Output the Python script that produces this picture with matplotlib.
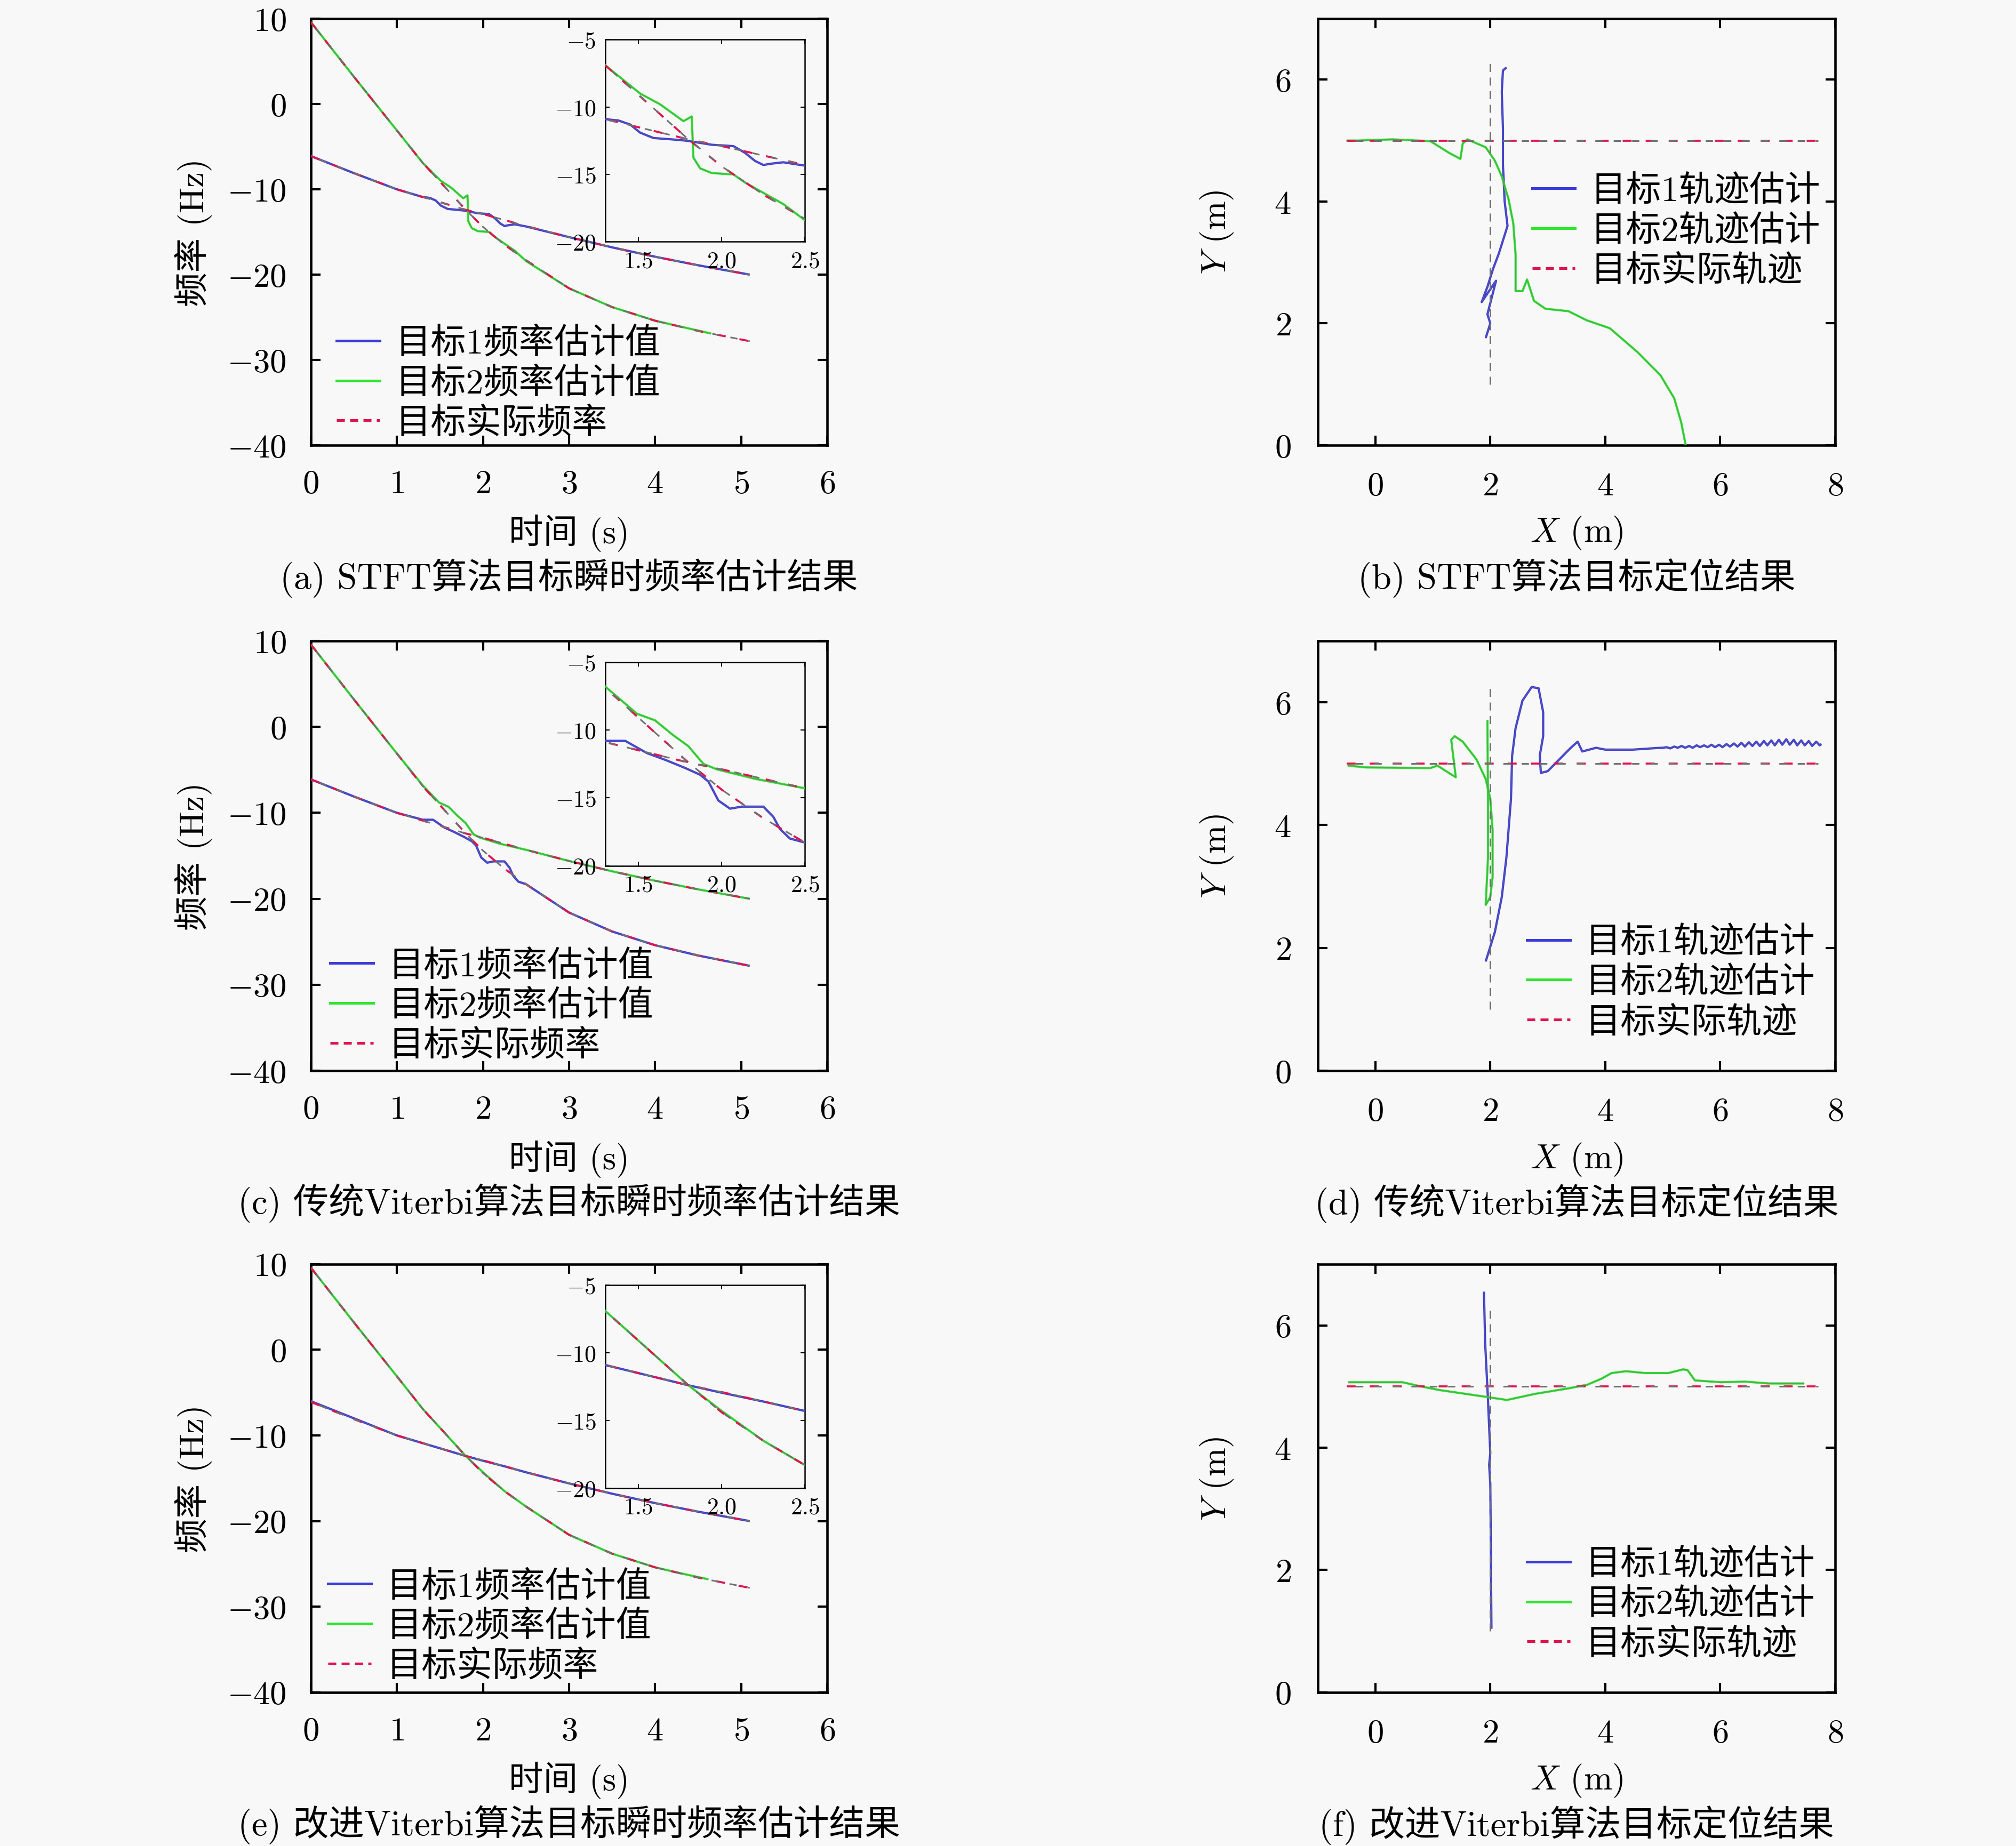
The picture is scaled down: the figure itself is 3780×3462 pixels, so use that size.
import matplotlib
matplotlib.use('Agg')
import matplotlib.pyplot as plt
from matplotlib.lines import Line2D
from matplotlib.ticker import FuncFormatter

plt.rcParams['font.family'] = ['cmr10', 'Noto Sans CJK SC']
plt.rcParams['mathtext.fontset'] = 'cm'

BG = '#f8f8f8'
BLUE = '#3b3bdc'
GREEN = '#2ee62e'
RED = '#e0144c'
GRAY = '#707070'

# ---------------- data ----------------
FREQ_XTICKS = [0, 1, 2, 3, 4, 5, 6]
FREQ_YTICKS = [-40, -30, -20, -10, 0, 10]
INSET_XTICKS = [1.5, 2.0, 2.5]
INSET_YTICKS = [-20, -15, -10, -5]
LOC_XTICKS = [0, 2, 4, 6, 8]
LOC_YTICKS = [0, 2, 4, 6]

# true instantaneous frequencies
T_TRUE = [0, 0.5, 1.0, 1.3, 1.5, 1.8, 2.0, 2.25, 2.5, 3.0, 3.5, 4.0, 4.5, 5.1]
F1_TRUE = [-6.1, -8.1, -10.0, -10.9, -11.5, -12.4, -12.9, -13.6, -14.3, -15.6, -16.8, -17.9, -18.9, -20.0]
F2_TRUE = [9.6, 3.2, -3.1, -6.9, -9.1, -12.4, -14.4, -16.5, -18.3, -21.6, -23.8, -25.4, -26.6, -27.8]

# (a) STFT estimates
A_T1 = [0, 0.5, 1.0, 1.2, 1.3, 1.38, 1.45, 1.51, 1.59, 1.7, 1.79, 1.94, 2.07, 2.14, 2.2, 2.25,
        2.3, 2.37, 2.5, 3.0, 3.5, 4.0, 4.5, 5.1]
A_F1 = [-6.1, -8.1, -10.0, -10.6, -10.9, -11.0, -11.3, -11.9, -12.3, -12.4, -12.5, -12.8, -12.9,
        -13.4, -14.0, -14.3, -14.2, -14.1, -14.35, -15.6, -16.8, -17.9, -18.9, -20.0]
A_T2 = [0, 0.5, 1.0, 1.3, 1.51, 1.63, 1.77, 1.82, 1.83, 1.87, 1.94, 2.07, 2.14, 2.24, 2.37, 2.5,
        3.0, 3.5, 4.0, 4.3, 4.65]
A_F2 = [9.6, 3.2, -3.1, -6.9, -9.0, -9.8, -11.05, -10.7, -13.75, -14.55, -14.9, -15.0, -15.6,
        -16.3, -17.2, -18.4, -21.6, -23.8, -25.4, -26.1, -26.9]

# (c) traditional Viterbi estimates
C_T1 = [0, 0.5, 1.0, 1.3, 1.42, 1.55, 1.66, 1.78, 1.87, 1.92, 1.98, 2.05, 2.12, 2.25, 2.31, 2.35,
        2.41, 2.5, 3.0, 3.5, 4.0, 4.5, 5.1]
C_F1 = [-6.1, -8.1, -10.0, -10.8, -10.8, -11.7, -12.2, -12.8, -13.3, -13.8, -15.2, -15.8, -15.65,
        -15.65, -16.4, -17.3, -18.0, -18.3, -21.6, -23.8, -25.4, -26.6, -27.8]
C_T2 = [0, 0.5, 1.0, 1.3, 1.49, 1.6, 1.71, 1.8, 1.89, 1.97, 2.2, 2.5, 3.0, 3.5, 4.0, 4.5, 5.1]
C_F2 = [9.6, 3.2, -3.1, -6.8, -8.8, -9.3, -10.4, -11.2, -12.5, -12.9, -13.6, -14.3, -15.6, -16.8,
        -17.9, -18.9, -20.0]

# (e) improved Viterbi estimates
E_T1 = [0, 0.5, 1.0, 1.3, 1.5, 1.8, 2.0, 2.25, 2.5, 3.0, 3.5, 4.0, 4.5, 5.1]
E_F1 = [-6.0, -8.0, -10.0, -10.9, -11.5, -12.4, -12.95, -13.6, -14.3, -15.6, -16.8, -17.9, -18.9, -20.0]
E_T2 = [0, 0.5, 1.0, 1.3, 1.5, 1.8, 2.0, 2.25, 2.5, 3.0, 3.5, 4.0, 4.3, 4.62]
E_F2 = [9.6, 3.2, -3.1, -6.9, -9.1, -12.4, -14.3, -16.5, -18.3, -21.6, -23.8, -25.4, -26.1, -26.8]

# true trajectories
TRUE1_X = [2.0, 2.0]
TRUE1_Y = [1.0, 6.3]
TRUE2_X = [-0.5, 7.7]
TRUE2_Y = [5.0, 5.0]

# (b) STFT localisation
B_X1 = [1.92, 2.0, 1.95, 2.1, 1.85, 1.95, 2.05, 2.15, 2.25, 2.3, 2.25, 2.22, 2.22, 2.2, 2.22, 2.28]
B_Y1 = [1.76, 2.0, 2.15, 2.7, 2.35, 2.6, 2.9, 3.15, 3.45, 3.6, 4.0, 4.6, 5.2, 5.8, 6.15, 6.2]
B_X2 = [-0.5, -0.32, 0.3, 0.96, 1.28, 1.48, 1.52, 1.6, 1.92, 2.08, 2.2, 2.32, 2.4, 2.44, 2.44, 2.56,
        2.64, 2.76, 2.96, 3.36, 3.68, 4.08, 4.56, 4.96, 5.2, 5.32, 5.4]
B_Y2 = [5.0, 5.0, 5.02, 4.99, 4.8, 4.7, 4.95, 5.02, 4.89, 4.67, 4.41, 4.03, 3.64, 3.13, 2.53, 2.53,
        2.72, 2.37, 2.24, 2.2, 2.05, 1.92, 1.53, 1.15, 0.77, 0.38, 0.0]

# (d) traditional Viterbi localisation
D_X1 = [1.92, 2.08, 2.2, 2.28, 2.36, 2.38, 2.44, 2.56, 2.72, 2.84, 2.92, 2.92, 2.86, 2.88, 3.0, 3.2,
        3.4, 3.52, 3.6, 3.84, 4.0, 4.48, 4.96,
        5.00, 5.07, 5.13, 5.20, 5.26, 5.33, 5.39, 5.46, 5.52, 5.59, 5.65, 5.72, 5.78, 5.85, 5.91,
        5.98, 6.04, 6.11, 6.17, 6.24, 6.30, 6.37, 6.43, 6.50, 6.56, 6.63, 6.69, 6.76, 6.82, 6.89,
        6.95, 7.02, 7.08, 7.15, 7.21, 7.28, 7.34, 7.41, 7.47, 7.54, 7.60, 7.67, 7.73, 7.76]
D_Y1 = [1.78, 2.26, 2.83, 3.47, 4.43, 5.13, 5.58, 6.03, 6.25, 6.23, 5.84, 5.45, 5.13, 4.85, 4.88, 5.07,
        5.26, 5.36, 5.2, 5.26, 5.23, 5.23, 5.26,
        5.26, 5.27, 5.25, 5.28, 5.26, 5.29, 5.26, 5.29, 5.26, 5.30, 5.27, 5.30, 5.27, 5.31, 5.27,
        5.31, 5.27, 5.32, 5.28, 5.33, 5.28, 5.34, 5.28, 5.35, 5.29, 5.36, 5.29, 5.37, 5.30, 5.38,
        5.30, 5.39, 5.31, 5.40, 5.31, 5.39, 5.30, 5.38, 5.30, 5.37, 5.29, 5.36, 5.30, 5.32]
D_X2 = [-0.48, -0.16, 0.96, 1.08, 1.28, 1.4, 1.32, 1.38, 1.52, 1.76, 1.92, 2.0, 2.04, 2.04, 2.0, 1.92,
        1.96, 1.96, 1.95]
D_Y2 = [4.97, 4.94, 4.93, 4.97, 4.85, 4.78, 5.39, 5.45, 5.36, 5.07, 4.75, 4.43, 3.92, 3.15, 2.83, 2.7,
        3.47, 4.43, 5.71]

# (f) improved Viterbi localisation
F_X1 = [2.02, 2.01, 2.0, 1.98, 2.0, 1.96, 1.91, 1.89]
F_Y1 = [1.04, 2.29, 3.41, 3.72, 3.91, 4.78, 5.72, 6.55]
F_X2 = [-0.47, 0.47, 0.8, 1.13, 1.79, 2.29, 2.78, 3.36, 3.69, 3.94, 4.11, 4.36, 4.69, 5.1, 5.35,
        5.43, 5.56, 6.01, 6.43, 6.84, 7.46]
F_Y2 = [5.07, 5.07, 5.0, 4.94, 4.85, 4.78, 4.88, 4.97, 5.03, 5.13, 5.22, 5.25, 5.22, 5.22, 5.28,
        5.27, 5.1, 5.07, 5.08, 5.05, 5.05]

FREQ_LEGEND = ['目标1频率估计值', '目标2频率估计值', '目标实际频率']
LOC_LEGEND = ['目标1轨迹估计', '目标2轨迹估计', '目标实际轨迹']
CAPTIONS = ['(a) STFT算法目标瞬时频率估计结果', '(b) STFT算法目标定位结果',
            '(c) 传统Viterbi算法目标瞬时频率估计结果', '(d) 传统Viterbi算法目标定位结果',
            '(e) 改进Viterbi算法目标瞬时频率估计结果', '(f) 改进Viterbi算法目标定位结果']

# ---------------- figure ----------------
fig = plt.figure(figsize=(12.6, 11.543), dpi=300, facecolor=BG)

ROWS = [(0.7586, 0.2310), (0.4199, 0.2327), (0.0832, 0.2319)]
LEFT_COL = (0.1542, 0.2561)
RIGHT_COL = (0.6537, 0.2566)

TICK_FS = 15
LABEL_FS = 15.5
LEG_FS = 15.9
CAP_FS = 16

int_fmt = FuncFormatter(lambda v, p: '$%d$' % round(v))
dec_fmt = FuncFormatter(lambda v, p: '$%.1f$' % v)


def est(ax, x, y, color, lw=1.0):
    ax.plot(x, y, color=color, lw=lw, solid_capstyle='butt', zorder=3)
    ax.plot(x, y, color=GRAY, lw=0.35, alpha=0.55, zorder=3.1)


def truth(ax, x, y, lw=0.9, gray_only=False):
    if not gray_only:
        ax.plot(x, y, color=RED, lw=lw, linestyle=(0, (4.5, 7)), zorder=4)
    ax.plot(x, y, color=GRAY, lw=lw * 0.8, linestyle=(5.75, (4.5, 7)) if not gray_only else (0, (5, 3.5)),
            zorder=4)


def style_main(ax, pad):
    ax.set_facecolor(BG)
    for s in ax.spines.values():
        s.set_linewidth(1.1)
    ax.tick_params(direction='in', length=4.3, width=1.0, top=True, right=True,
                   labelsize=TICK_FS, pad=pad)


def legend(ax, labels, anchor):
    handles = [Line2D([], [], color=BLUE, lw=1.2),
               Line2D([], [], color=GREEN, lw=1.2),
               Line2D([], [], color=RED, lw=1.2, linestyle=(0, (3, 2)))]
    ax.legend(handles, labels, loc='center left', bbox_to_anchor=anchor, frameon=False,
              fontsize=LEG_FS, handlelength=1.22, handletextpad=0.44, labelspacing=0.2,
              borderpad=0, borderaxespad=0)


def caption(ax, text):
    ax.annotate(text, xy=(0.5, 0), xycoords='axes fraction', xytext=(0, -59.5),
                textcoords='offset points', ha='center', va='center', fontsize=CAP_FS)


freq_sets = [(A_T1, A_F1, A_T2, A_F2), (C_T1, C_F1, C_T2, C_F2), (E_T1, E_F1, E_T2, E_F2)]
freq_leg_anchor = [(0.05, 0.145), (0.037, 0.151), (0.033, 0.154)]
loc_sets = [(B_X1, B_Y1, B_X2, B_Y2), (D_X1, D_Y1, D_X2, D_Y2), (F_X1, F_Y1, F_X2, F_Y2)]
loc_leg_anchor = [(0.414, 0.502), (0.404, 0.205), (0.404, 0.205)]

for r, (bot, h) in enumerate(ROWS):
    # frequency panel
    ax = fig.add_axes([LEFT_COL[0], bot, LEFT_COL[1], h])
    style_main(ax, 11)
    t1, f1, t2, f2 = freq_sets[r]
    est(ax, t1, f1, BLUE)
    est(ax, t2, f2, GREEN)
    truth(ax, T_TRUE, F1_TRUE)
    truth(ax, T_TRUE, F2_TRUE)
    ax.set_xlim(0, 6)
    ax.set_ylim(-40, 10)
    ax.set_xticks(FREQ_XTICKS)
    ax.set_yticks(FREQ_YTICKS)
    ax.xaxis.set_major_formatter(int_fmt)
    ax.yaxis.set_major_formatter(int_fmt)
    ax.set_xlabel('时间 (s)', fontsize=LABEL_FS)
    ax.xaxis.label.set_va('center')
    ax.xaxis.set_label_coords(0.5, -0.205)
    ax.set_ylabel('频率 (Hz)', fontsize=LABEL_FS)
    ax.yaxis.label.set_va('center')
    ax.yaxis.set_label_coords(-0.227, 0.5)
    legend(ax, FREQ_LEGEND, freq_leg_anchor[r])
    caption(ax, CAPTIONS[2 * r])

    # inset
    ins = ax.inset_axes([0.57, 0.477, 0.387, 0.474])
    ins.set_facecolor(BG)
    ins.set_zorder(5)
    for s in ins.spines.values():
        s.set_linewidth(0.6)
    ins.tick_params(direction='in', length=2.0, width=0.5, top=True, right=True,
                    labelsize=10.5, pad=4)
    est(ins, t1, f1, BLUE)
    est(ins, t2, f2, GREEN)
    truth(ins, T_TRUE, F1_TRUE)
    truth(ins, T_TRUE, F2_TRUE)
    ins.set_xlim(1.3, 2.5)
    ins.set_ylim(-20, -5)
    ins.set_xticks(INSET_XTICKS)
    ins.set_yticks(INSET_YTICKS)
    ins.xaxis.set_major_formatter(dec_fmt)
    ins.yaxis.set_major_formatter(int_fmt)

    # localisation panel
    ax = fig.add_axes([RIGHT_COL[0], bot, RIGHT_COL[1], h])
    style_main(ax, 12)
    x1, y1, x2, y2 = loc_sets[r]
    est(ax, x1, y1, BLUE)
    est(ax, x2, y2, GREEN)
    truth(ax, TRUE2_X, TRUE2_Y)
    truth(ax, TRUE1_X, TRUE1_Y, gray_only=True)
    ax.set_xlim(-1, 8)
    ax.set_ylim(0, 7)
    ax.set_xticks(LOC_XTICKS)
    ax.set_yticks(LOC_YTICKS)
    ax.xaxis.set_major_formatter(int_fmt)
    ax.yaxis.set_major_formatter(int_fmt)
    ax.set_xlabel('$X$ (m)', fontsize=LABEL_FS)
    ax.xaxis.label.set_va('center')
    ax.xaxis.set_label_coords(0.5, -0.205)
    ax.set_ylabel('$Y$ (m)', fontsize=LABEL_FS)
    ax.yaxis.label.set_va('center')
    ax.yaxis.set_label_coords(-0.195, 0.5)
    legend(ax, LOC_LEGEND, loc_leg_anchor[r])
    caption(ax, CAPTIONS[2 * r + 1])

fig.savefig('out.png', dpi=300, facecolor=BG)
